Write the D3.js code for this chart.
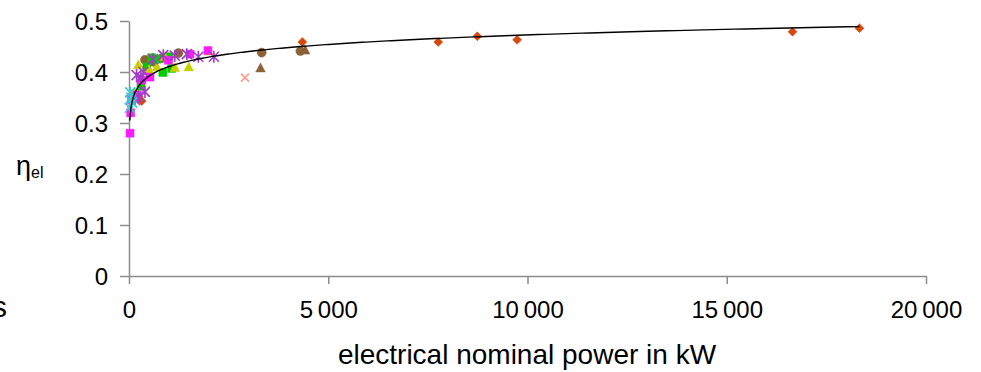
<!DOCTYPE html>
<html><head><meta charset="utf-8">
<script src="https://cdn.jsdelivr.net/npm/d3@7"></script>
<style>
html,body{margin:0;padding:0;background:#fff;}
svg{display:block;font-family:"Liberation Sans",Arial,sans-serif;}
</style></head>
<body><svg id="c" width="981" height="372"></svg>
<script>
// ---- data ----
const xTicks = [0, 5000, 10000, 15000, 20000];
const xTickLabels = ["0", "5\u2009000", "10\u2009000", "15\u2009000", "20\u2009000"];
const yTicks = [0, 0.1, 0.2, 0.3, 0.4, 0.5];
const yTickLabels = ["0", "0.1", "0.2", "0.3", "0.4", "0.5"];

const diamondX = [4350, 7760, 8740, 9740, 16650, 18330, 240, 320];
const diamondY = [0.459, 0.459, 0.470, 0.463, 0.479, 0.486, 0.352, 0.343];
const brownCircleX = [400, 610, 820, 1240, 3330, 4300];
const brownCircleY = [0.424, 0.420, 0.427, 0.437, 0.438, 0.441];
const brownTriX = [3300, 4420];
const brownTriY = [0.408, 0.443];
const salmonXx = [2910];
const salmonXy = [0.389];
const greenSqX = [300, 450, 570, 700, 850, 1000, 1070];
const greenSqY = [0.372, 0.410, 0.428, 0.425, 0.399, 0.430, 0.407];
const yellowTriX = [150, 235, 500, 700, 900, 1150, 1500, 2000];
const yellowTriY = [0.360, 0.414, 0.405, 0.410, 0.430, 0.409, 0.410, 0.441];
const magentaSqX = [25, 40, 60, 110, 200, 317, 527, 990, 1530, 1980];
const magentaSqY = [0.280, 0.320, 0.345, 0.350, 0.355, 0.384, 0.390, 0.423, 0.435, 0.442];
const purpleStarX = [150, 235, 400, 190, 300, 360, 600, 860, 1150, 1450, 1740, 2130];
const purpleStarY = [0.345, 0.352, 0.361, 0.394, 0.390, 0.400, 0.425, 0.433, 0.432, 0.435, 0.430, 0.430];
const cyanStarX = [20, 30, 40, 60, 80];
const cyanStarY = [0.330, 0.360, 0.345, 0.350, 0.340];

// logarithmic trendline coefficients: y = A ln(x) + B
const trendA = 0.0270, trendB = 0.224;
const trendFrom = 20, trendTo = 18330;

// ---- layout ----
const svg = d3.select("#c");
const x = d3.scaleLinear().domain([0, 20000]).range([129, 926]);
const y = d3.scaleLinear().domain([0, 0.5]).range([276, 21]);
const axisColor = "#8c8c8c";
const tickFont = "24px";

const series = [
  {xs: diamondX, ys: diamondY, shape: "diamond", color: "#d4490f"},
  {xs: brownCircleX, ys: brownCircleY, shape: "circle", color: "#8b6238"},
  {xs: brownTriX, ys: brownTriY, shape: "triangle", color: "#8b6238"},
  {xs: salmonXx, ys: salmonXy, shape: "x", color: "#ff9c8c"},
  {xs: greenSqX, ys: greenSqY, shape: "square", color: "#00cc00"},
  {xs: yellowTriX, ys: yellowTriY, shape: "triangle", color: "#c8d000"},
  {xs: magentaSqX, ys: magentaSqY, shape: "square", color: "#ff1aff"},
  {xs: purpleStarX, ys: purpleStarY, shape: "star", color: "#a23cc8"},
  {xs: cyanStarX, ys: cyanStarY, shape: "star", color: "#3cc8d0"}
];

function markerPath(shape) {
  switch (shape) {
    case "diamond": return "M0,-4.5L4.5,0L0,4.5L-4.5,0Z";
    case "square": return "M-4,-4H4V4H-4Z";
    case "triangle": return "M0,-5L4.8,4L-4.8,4Z";
    case "circle": return d3.symbol(d3.symbolCircle, 64)();
    case "x": return "M-4,-4L4,4M-4,4L4,-4";
    case "star": return "M-5,-5L5,5M-5,5L5,-5M0,-6V6";
  }
}

// axes
const gx = svg.append("g").attr("transform", "translate(0,276)")
  .call(d3.axisBottom(x).tickValues(xTicks).tickFormat((d, i) => xTickLabels[i]).tickSize(8).tickSizeOuter(0));
const gy = svg.append("g").attr("transform", "translate(129,0)")
  .call(d3.axisLeft(y).tickValues(yTicks).tickFormat((d, i) => yTickLabels[i]).tickSize(9).tickSizeOuter(0));
[gx, gy].forEach(g => {
  g.select(".domain").attr("stroke", axisColor).attr("stroke-width", 1.5);
  g.selectAll(".tick line").attr("stroke", axisColor).attr("stroke-width", 1.5);
  g.selectAll("text").attr("fill", "#000").style("font-size", tickFont)
    .style("font-family", '"Liberation Sans",Arial,sans-serif');
});
gx.selectAll("text").attr("dy", 0).attr("y", 42);
gy.selectAll("text").attr("x", -21).attr("dy", "0.35em");

// markers
series.forEach(s => {
  const pts = s.xs.map((v, i) => [v, s.ys[i]]);
  const g = svg.append("g");
  const filled = !(s.shape === "x" || s.shape === "star");
  g.selectAll("path").data(pts).enter().append("path")
    .attr("transform", d => `translate(${x(d[0])},${y(d[1])})`)
    .attr("d", markerPath(s.shape))
    .attr("fill", filled ? s.color : "none")
    .attr("stroke", s.color)
    .attr("stroke-width", filled ? 0.5 : 1.6);
});

// trendline
const trendXs = d3.range(0, 401).map(i => trendFrom * Math.pow(trendTo / trendFrom, i / 400));
svg.append("path")
  .datum(trendXs)
  .attr("fill", "none").attr("stroke", "#000").attr("stroke-width", 1.4)
  .attr("d", d3.line().x(d => x(d)).y(d => y(trendA * Math.log(d) + trendB)));

// labels
svg.append("text").attr("x", 527).attr("y", 364).attr("text-anchor", "middle")
  .style("font-size", "28px").text("electrical nominal power in kW");
const eta = svg.append("text").attr("x", 16).attr("y", 175).style("font-size", "27px");
eta.append("tspan").text("η");
eta.append("tspan").attr("dy", 3).style("font-size", "16px").text("el");
svg.append("text").attr("x", -8).attr("y", 317).style("font-size", "30px").text("s");
</script></body></html>
